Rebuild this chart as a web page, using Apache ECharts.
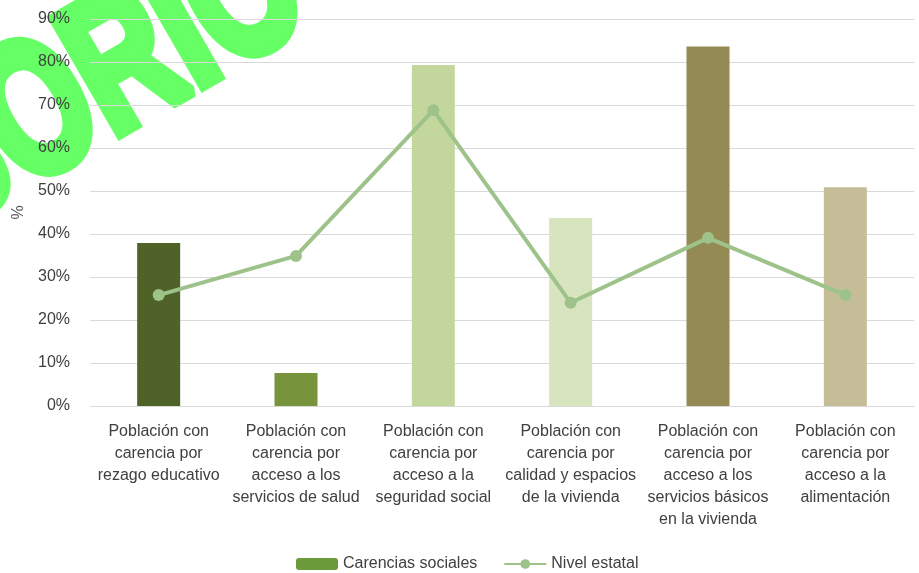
<!DOCTYPE html>
<html>
<head>
<meta charset="utf-8">
<script src="https://cdn.jsdelivr.net/npm/echarts@6/dist/echarts.min.js"></script>
<style>
  html, body { margin: 0; padding: 0; background: #fff; }
  #chart { width: 919px; height: 573px; }
</style>
</head>
<body>
<div id="chart"></div>
<script>
// carencias sociales vs nivel estatal
const categories = [
  'Población con\ncarencia por\nrezago educativo',
  'Población con\ncarencia por\nacceso a los\nservicios de salud',
  'Población con\ncarencia por\nacceso a la\nseguridad social',
  'Población con\ncarencia por\ncalidad y espacios\nde la vivienda',
  'Población con\ncarencia por\nacceso a los\nservicios básicos\nen la vivienda',
  'Población con\ncarencia por\nacceso a la\nalimentación'
]
const carencias = [37.9, 7.7, 79.3, 43.7, 83.6, 50.9]
const nivelEstatal = [25.8, 34.9, 68.8, 24.0, 39.1, 25.8]
const barColors = ['#4f6228', '#77933c', '#c3d69b', '#d7e4bd', '#948a54', '#c4bd97']

const font = 'Liberation Sans, Arial, sans-serif'
const chart = echarts.init(document.getElementById('chart'))

const option = {
  animation: false,
  grid: { left: 90, right: 5, top: 19, bottom: 167 },
  legend: {
    top: 551,
    left: 291,
    itemGap: 26,
    itemWidth: 42,
    itemHeight: 12,
    textStyle: { fontFamily: font, fontSize: 16, color: '#404040' },
    data: ['Carencias sociales', 'Nivel estatal']
  },
  xAxis: {
    type: 'category',
    data: categories,
    axisLine: { lineStyle: { color: '#d9d9d9', width: 1 } },
    axisTick: { show: false },
    axisLabel: {
      interval: 0,
      margin: 15,
      fontFamily: font,
      fontSize: 16,
      lineHeight: 22,
      color: '#404040'
    }
  },
  yAxis: {
    type: 'value',
    min: 0,
    max: 90,
    interval: 10,
    name: '%',
    nameLocation: 'middle',
    nameGap: 54,
    nameTextStyle: { fontFamily: font, fontSize: 16, color: '#595959' },
    axisLabel: {
      formatter: '{value}%',
      fontFamily: font,
      fontSize: 16,
      color: '#404040',
      margin: 20
    },
    axisLine: { show: false },
    axisTick: { show: false },
    splitLine: { lineStyle: { color: '#d9d9d9', width: 1 } }
  },
  series: [
    {
      name: 'Carencias sociales',
      type: 'bar',
      barWidth: 43,
      itemStyle: { color: '#6a9a3a' },
      data: carencias.map((v, i) => ({ value: v, itemStyle: { color: barColors[i] } }))
    },
    {
      name: 'Nivel estatal',
      type: 'line',
      data: nivelEstatal,
      symbol: 'circle',
      symbolSize: 12,
      lineStyle: { color: '#9dc38a', width: 4 },
      itemStyle: { color: '#9dc38a' }
    }
  ],
  graphic: [
    {
      // watermark, sits behind the plot
      type: 'text',
      x: 290,
      y: -26,
      rotation: Math.PI / 6,
      scaleX: 0.7,
      z: -10,
      style: {
        text: 'PROVISORIO',
        textAlign: 'right',
        textVerticalAlign: 'middle',
        font: 'bold 190px Liberation Sans, Arial, sans-serif',
        fill: '#66ff66',
        stroke: '#66ff66',
        lineWidth: 13,
        lineJoin: 'round'
      }
    }
  ]
}
chart.setOption(option)
</script>
</body>
</html>
